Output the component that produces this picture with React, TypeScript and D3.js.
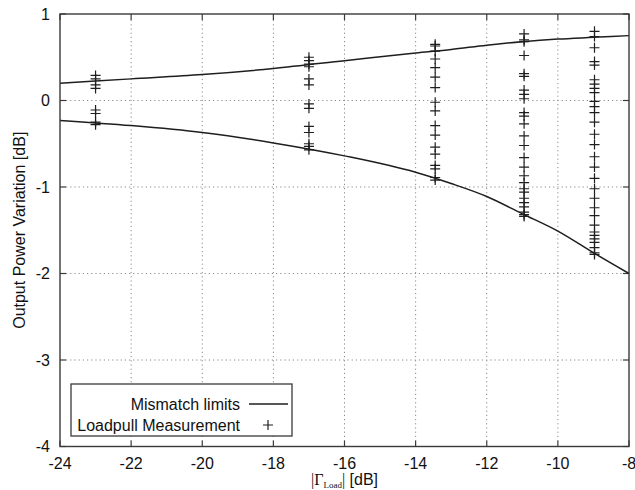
import React from 'react';
import * as d3 from 'd3';

const xTickValues = [-24, -22, -20, -18, -16, -14, -12, -10, -8];
const yTickValues = [1, 0, -1, -2, -3, -4];

const limitX = [-24, -22, -20, -18, -16, -14, -13, -12, -11, -10, -9, -8];
const upperLimit = [0.2, 0.25, 0.3, 0.37, 0.46, 0.55, 0.59, 0.64, 0.68, 0.71, 0.73, 0.75];
const lowerLimit = [-0.23, -0.29, -0.37, -0.49, -0.64, -0.83, -0.96, -1.11, -1.31, -1.51, -1.76, -2.0];

const measX = [-23, -17, -13.45, -10.95, -8.97];
const meas23 = [0.29, 0.25, 0.18, 0.14, -0.11, -0.15, -0.25, -0.28];
const meas17 = [0.5, 0.46, 0.42, 0.39, 0.25, 0.18, -0.04, -0.09, -0.3, -0.37, -0.5, -0.53, -0.57];
const meas13 = [0.65, 0.63, 0.57, 0.48, 0.38, 0.27, 0.15, -0.02, -0.12, -0.29, -0.4, -0.54, -0.62, -0.75, -0.79, -0.89, -0.92];
const meas11 = [0.77, 0.7, 0.68, 0.52, 0.31, 0.28, 0.12, 0.07, 0.02, -0.14, -0.18, -0.27, -0.41, -0.52, -0.66, -0.77, -0.87, -0.95, -1.02, -1.06, -1.13, -1.18, -1.23, -1.29, -1.32, -1.34];
const meas9 = [0.8, 0.74, 0.61, 0.45, 0.41, 0.24, 0.19, 0.14, 0.09, -0.01, -0.07, -0.14, -0.25, -0.39, -0.51, -0.65, -0.77, -0.9, -1.02, -1.13, -1.24, -1.33, -1.44, -1.52, -1.56, -1.6, -1.64, -1.7, -1.76, -1.78];
const measSeries = [meas23, meas17, meas13, meas11, meas9];

const legendLabels = ['Mismatch limits', 'Loadpull Measurement'];

const W = 635;
const H = 490;
const L = 60, R = 629, T = 14, B = 446.5;
const FONT = '"Liberation Sans", Arial, Helvetica, sans-serif';
const SERIF = '"Liberation Serif", "Times New Roman", serif';

export default function App() {
  const x = d3.scaleLinear().domain([-24, -8]).range([L, R]);
  const y = d3.scaleLinear().domain([-4, 1]).range([B, T]);
  const line = d3
    .line<number>()
    .x((_, i) => x(limitX[i]))
    .y((d) => y(d))
    .curve(d3.curveMonotoneX);

  const frame = '#3a3a3a';
  const ink = '#1e1e1e';
  const tickLen = 6;
  const ph = 5;

  return (
    <svg
      width={W}
      height={H}
      style={{ position: 'absolute', left: 0, top: 0, background: '#fff' }}
      fontFamily={FONT}
    >
      <rect x={0} y={0} width={W} height={H} fill="#fff" />
      {/* grid */}
      {xTickValues.slice(1, -1).map((t) => (
        <line key={'gx' + t} x1={x(t)} x2={x(t)} y1={T + tickLen} y2={B - tickLen}
          stroke="#8a8a8a" strokeWidth={1} strokeDasharray="1.2,3" />
      ))}
      {yTickValues.slice(1, -1).map((t) => (
        <line key={'gy' + t} x1={L + tickLen} x2={R - tickLen} y1={y(t)} y2={y(t)}
          stroke="#8a8a8a" strokeWidth={1} strokeDasharray="1.2,3" />
      ))}
      {/* ticks */}
      {xTickValues.map((t) => (
        <g key={'tx' + t}>
          <line x1={x(t)} x2={x(t)} y1={B} y2={B - tickLen} stroke={frame} strokeWidth={1.2} />
          <line x1={x(t)} x2={x(t)} y1={T} y2={T + tickLen} stroke={frame} strokeWidth={1.2} />
          <text x={x(t)} y={463} textAnchor="middle" dominantBaseline="central" fontSize={16} fill="#111">
            {t}
          </text>
        </g>
      ))}
      {yTickValues.map((t) => (
        <g key={'ty' + t}>
          <line x1={L} x2={L + tickLen} y1={y(t)} y2={y(t)} stroke={frame} strokeWidth={1.2} />
          <line x1={R} x2={R - tickLen} y1={y(t)} y2={y(t)} stroke={frame} strokeWidth={1.2} />
          <text x={50} y={y(t)} textAnchor="end" dominantBaseline="central" fontSize={16} fill="#111">
            {t}
          </text>
        </g>
      ))}
      {/* curves */}
      <path d={line(upperLimit) || ''} fill="none" stroke={ink} strokeWidth={1.5} />
      <path d={line(lowerLimit) || ''} fill="none" stroke={ink} strokeWidth={1.5} />
      {/* measurements */}
      {measSeries.map((vals, si) =>
        vals.map((v, i) => (
          <path key={si + '-' + i}
            d={`M${x(measX[si]) - ph},${y(v)}h${2 * ph}M${x(measX[si])},${y(v) - ph}v${2 * ph}`}
            stroke={ink} strokeWidth={1.2} fill="none" />
        ))
      )}
      {/* frame */}
      <rect x={L} y={T} width={R - L} height={B - T} fill="none" stroke={frame} strokeWidth={1.4} />
      {/* legend */}
      <rect x={71} y={384} width={221} height={52} fill="#fff" stroke={frame} strokeWidth={1.3} />
      <text x={240} y={404} textAnchor="end" dominantBaseline="central" fontSize={16} fill="#111">
        {legendLabels[0]}
      </text>
      <line x1={249} x2={288} y1={404} y2={404} stroke={ink} strokeWidth={1.5} />
      <text x={240} y={425} textAnchor="end" dominantBaseline="central" fontSize={16} fill="#111">
        {legendLabels[1]}
      </text>
      <path d={`M${268 - ph},425h${2 * ph}M268,${425 - ph}v${2 * ph}`} stroke={ink} strokeWidth={1.2} />
      {/* axis titles */}
      <text transform={`translate(19,${(T + B) / 2}) rotate(-90)`} textAnchor="middle"
        dominantBaseline="central" fontSize={16} fill="#111">
        Output Power Variation [dB]
      </text>
      <text x={(L + R) / 2} y={485} textAnchor="middle" fontSize={16} fill="#111">
        <tspan fontFamily={SERIF}>|Γ</tspan>
        <tspan fontFamily={SERIF} fontSize={9} dy={2.5}>Load</tspan>
        <tspan fontFamily={SERIF} dy={-2.5}>|</tspan>
        <tspan> [dB]</tspan>
      </text>
    </svg>
  );
}
